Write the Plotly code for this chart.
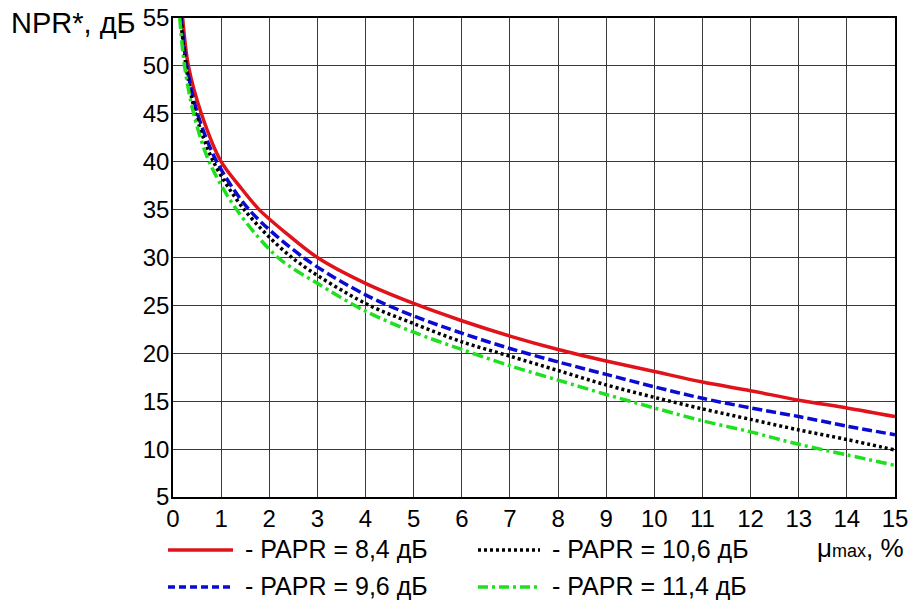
import plotly.graph_objects as go

# NPR* (dB) versus maximum load mu_max (%) for four PAPR values
red_x = [0.20, 0.32, 0.59, 1.0, 1.39, 1.79, 2.36, 3, 4, 5, 6, 7, 8, 9, 10, 11, 12, 13, 14, 15]
red_y = [55, 50, 45, 40, 37.4, 35, 32.5, 30.0, 27.3, 25.2, 23.4, 21.8, 20.4, 19.2, 18.1, 17.0, 16.1, 15.1, 14.3, 13.4]

blue_x = [0.17, 0.285, 0.51, 0.91, 1.58, 2.71, 4, 5, 6, 7, 8, 9, 10, 11, 12, 13, 14, 15]
blue_y = [55, 50, 45, 40, 35, 30, 26.1, 23.9, 22.1, 20.5, 19.1, 17.8, 16.5, 15.3, 14.3, 13.4, 12.4, 11.5]

black_x = [0.16, 0.27, 0.47, 0.84, 1.48, 2.47, 4, 5, 6, 7, 8, 9, 10, 11, 12, 13, 14, 15]
black_y = [55, 50, 45, 40, 35, 30, 25.2, 23.1, 21.2, 19.7, 18.2, 16.7, 15.4, 14.2, 13.1, 12.0, 11.0, 9.9]

green_x = [0.14, 0.24, 0.43, 0.75, 1.32, 2.18, 3, 4, 5, 6, 7, 8, 9, 10, 11, 12, 13, 14, 15]
green_y = [55, 50, 45, 40, 35, 30, 27.3, 24.4, 22.2, 20.4, 18.7, 17.2, 15.7, 14.3, 12.95, 11.8, 10.5, 9.4, 8.3]

series_labels = ["- PAPR = 8,4 дБ", "- PAPR = 9,6 дБ", "- PAPR = 10,6 дБ", "- PAPR = 11,4 дБ"]
series_colors = ["#e0131a", "#0a0ad2", "#000000", "#1ee01e"]
series_dashes = ["solid", "10px,4px", "3px,3px", "11px,4px,3px,4px"]
legend_dashes = ["solid", "7px,4px", "3px,3px", "10px,4px,3px,4px"]

x_ticks = list(range(0, 16))
y_ticks = list(range(5, 56, 5))

FONT = "Arial, 'Liberation Sans', sans-serif"
W, H = 909, 603
ML, MR, MT, MB = 173, 14, 18, 106


def paper_x(p):
    return (p - ML) / (W - ML - MR)


def paper_y(p):
    return (H - MB - p) / (H - MT - MB)


fig = go.Figure()
curves = [(red_x, red_y), (blue_x, blue_y), (black_x, black_y), (green_x, green_y)]
for (xs, ys), name, color, dash in zip(curves, series_labels, series_colors, series_dashes):
    fig.add_trace(go.Scatter(
        x=xs, y=ys, mode="lines", name=name,
        line=dict(color=color, width=3.5, dash=dash, shape="spline", smoothing=0.9),
        showlegend=False,
    ))

# Hand-placed two-column legend below the axes
legend_slots = [
    (168, 233, 550),  # red
    (168, 233, 587),  # blue
    (478, 540, 550),  # black
    (478, 540, 587),  # green
]
shapes = []
annotations = []
for (x0, x1, yc), name, color, dash in zip(legend_slots, series_labels, series_colors, legend_dashes):
    shapes.append(dict(
        type="line", xref="paper", yref="paper",
        x0=paper_x(x0), x1=paper_x(x1), y0=paper_y(yc), y1=paper_y(yc),
        line=dict(color=color, width=3.5, dash=dash),
    ))
    annotations.append(dict(
        xref="paper", yref="paper", x=paper_x(x1 + 10), y=paper_y(yc - 1),
        xanchor="left", yanchor="middle", showarrow=False,
        text=name, font=dict(family=FONT, size=25, color="black"),
    ))

# Axis titles
annotations.append(dict(
    xref="paper", yref="paper", x=paper_x(9), y=paper_y(23),
    xanchor="left", yanchor="middle", showarrow=False,
    text="NPR*, дБ", font=dict(family=FONT, size=29, color="black"),
))
annotations.append(dict(
    xref="paper", yref="paper", x=paper_x(906), y=paper_y(548),
    xanchor="right", yanchor="middle", showarrow=False,
    text="μ<span style='font-size:18px'>max</span>, %",
    font=dict(family=FONT, size=26, color="black"),
))

fig.update_layout(
    width=W, height=H,
    margin=dict(l=ML, r=MR, t=MT, b=MB, pad=0),
    paper_bgcolor="white", plot_bgcolor="white",
    font=dict(family=FONT, size=24, color="black"),
    shapes=shapes, annotations=annotations,
    showlegend=False,
)
fig.update_xaxes(
    range=[0, 15], tickmode="array", tickvals=x_ticks, ticktext=[str(v) for v in x_ticks],
    showgrid=True, gridcolor="#3a3a3a", gridwidth=1,
    showline=True, linecolor="black", linewidth=1.5, mirror=True,
    ticks="", zeroline=False, automargin=False, ticklabelstandoff=-1,
    tickfont=dict(family=FONT, size=24, color="black"),
)
fig.update_yaxes(
    range=[5, 55], tickmode="array", tickvals=y_ticks, ticktext=[str(v) for v in y_ticks],
    showgrid=True, gridcolor="#3a3a3a", gridwidth=1,
    showline=True, linecolor="black", linewidth=1.5, mirror=True,
    ticks="", zeroline=False, ticklabelstandoff=-3, automargin=False,
    tickfont=dict(family=FONT, size=24, color="black"),
)

fig.write_html("out.html")
